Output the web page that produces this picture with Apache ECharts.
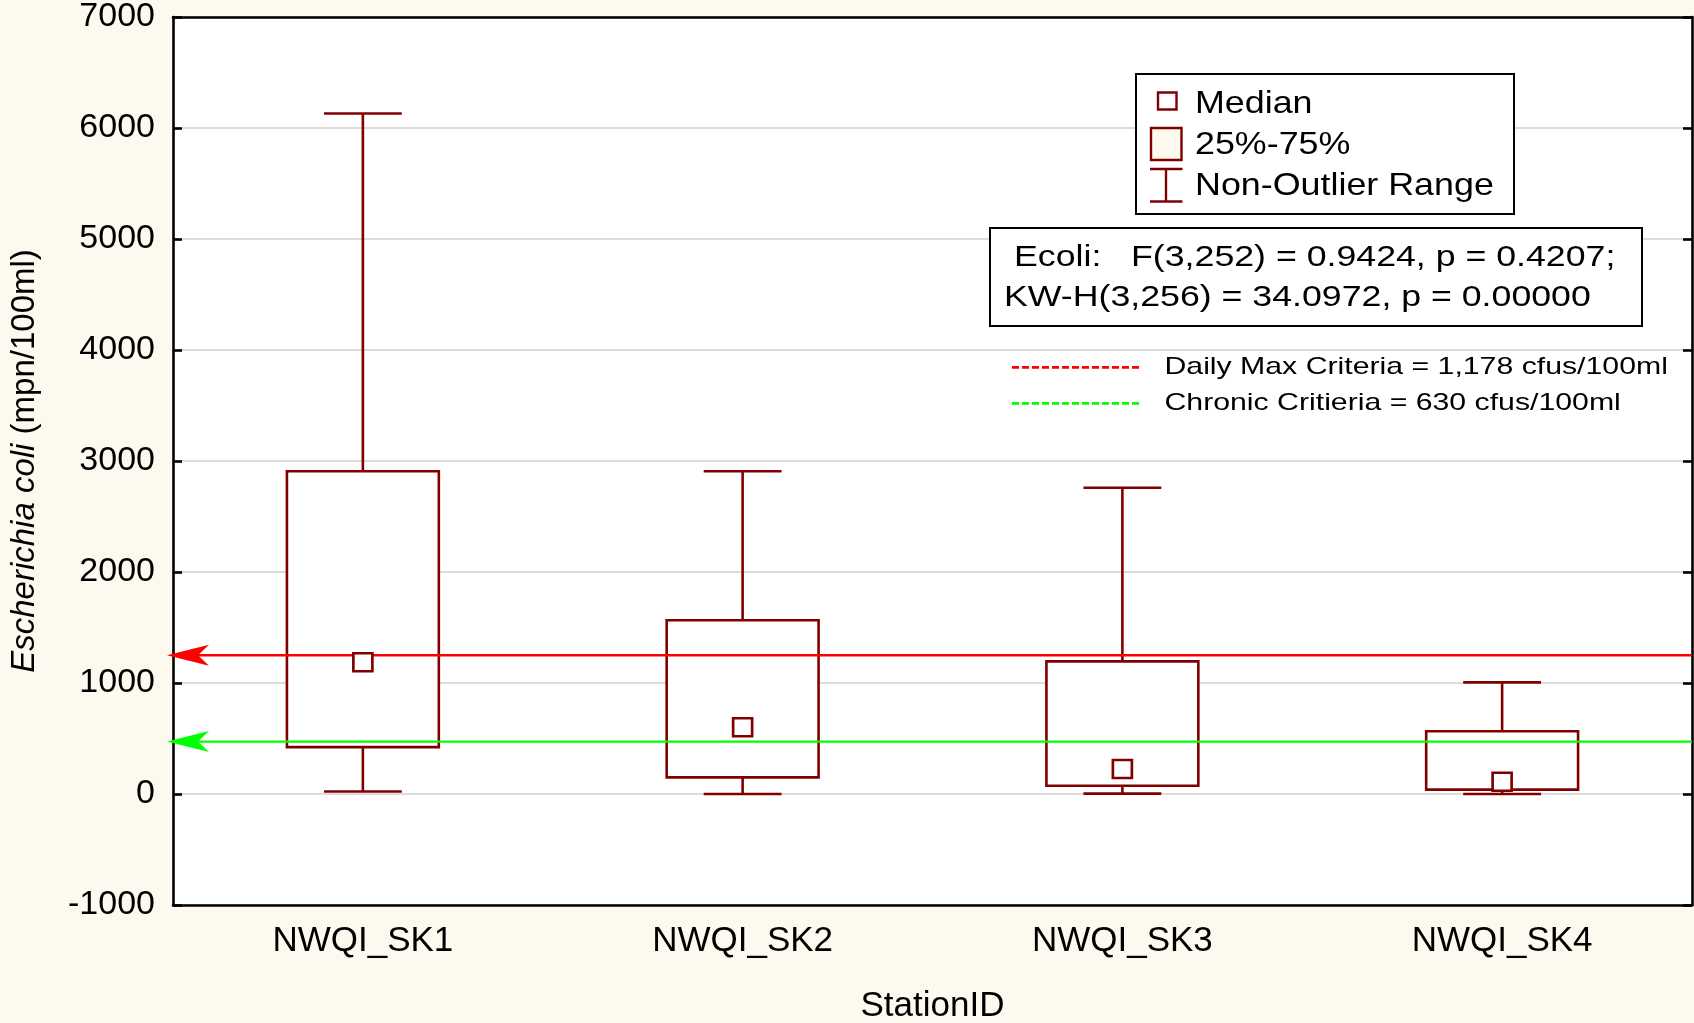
<!DOCTYPE html>
<html>
<head>
<meta charset="utf-8">
<script src="https://cdn.jsdelivr.net/npm/echarts@6/dist/echarts.min.js"></script>
<style>
html,body{margin:0;padding:0;background:#FEF9EE;overflow:hidden;}
#main{width:1694px;height:1023px;}
</style>
</head>
<body>
<div id="main"></div>
<script>
// ---- data ----
const categories = ['NWQI_SK1', 'NWQI_SK2', 'NWQI_SK3', 'NWQI_SK4'];
const whiskerLow  = [22, 0, 3, 0];
const q1          = [422, 150, 75, 39];
const median      = [1186, 601, 225, 111];
const q3          = [2908, 1565, 1195, 565];
const whiskerHigh = [6130, 2907, 2759, 1006];
const yMin = -1000, yMax = 7000, yInterval = 1000;
const criteriaValues = [1250, 472];          // red / green lines as drawn
const criteriaColors = ['#ff0000', '#00ff00'];
const legendLabels = ['Median', '25%-75%', 'Non-Outlier Range'];
const statsLines = ['Ecoli:   F(3,252) = 0.9424, p = 0.4207;', 'KW-H(3,256) = 34.0972, p = 0.00000'];
const criteriaLabels = ['Daily Max Criteria = 1,178 cfus/100ml', 'Chronic Critieria = 630 cfus/100ml'];
const xAxisTitle = 'StationID';

// ---- styles ----
const FONT = 'Liberation Sans, Arial, sans-serif';
const BOX = '#800000';
const CREAM = '#FEF9EE';

const chart = echarts.init(document.getElementById('main'), null, {renderer: 'canvas'});

const boxData = categories.map((c, i) => [i, whiskerLow[i], q1[i], median[i], q3[i], whiskerHigh[i]]);
const critData = criteriaValues.map((v, i) => [0, v, i]);

function txt(text, x, y, size, sx) {
  return {
    type: 'text', x: x, y: y, scaleX: sx, scaleY: 1, z: 20,
    style: {text: text, font: size + 'px ' + FONT, fill: '#000',
            align: 'left', verticalAlign: 'middle', textAlign: 'left', textVerticalAlign: 'middle'}
  };
}
function ln(x1, y1, x2, y2, color, w, dash) {
  return {type: 'line', z: 20, shape: {x1: x1, y1: y1, x2: x2, y2: y2},
          style: {stroke: color, lineWidth: w, lineDash: dash || null}};
}

const axisLineStyle = {color: '#000', width: 2.6};

const option = {
  backgroundColor: CREAM,
  animation: false,
  grid: {left: 173, right: 2, top: 17, bottom: 118, show: true, backgroundColor: '#fff', borderWidth: 0,
         containLabel: false, outerBoundsMode: 'none'},
  xAxis: [
    {
      type: 'category', data: categories, position: 'bottom',
      axisLine: {onZero: false, lineStyle: axisLineStyle},
      axisTick: {inside: true, alignWithLabel: true, length: 9, lineStyle: {color: '#000', width: 2.6}},
      axisLabel: {fontSize: 35, color: '#000', margin: 19, fontFamily: FONT},
      splitLine: {show: false},
      name: xAxisTitle, nameLocation: 'middle', nameGap: 84,
      nameTextStyle: {fontSize: 35, color: '#000', fontFamily: FONT}
    },
    {
      type: 'category', data: categories, position: 'top',
      axisLine: {onZero: false, lineStyle: axisLineStyle},
      axisTick: {inside: true, alignWithLabel: true, length: 9, lineStyle: {color: '#000', width: 2.6}},
      axisLabel: {show: false}, splitLine: {show: false}
    }
  ],
  yAxis: [
    {
      type: 'value', min: yMin, max: yMax, interval: yInterval, position: 'left',
      axisLine: {show: true, onZero: false, lineStyle: axisLineStyle},
      axisTick: {show: true, inside: true, length: 9, lineStyle: {color: '#000', width: 2.6}},
      axisLabel: {fontSize: 34, color: '#000', margin: 18, fontFamily: FONT, formatter: v => String(v)},
      splitLine: {show: true, lineStyle: {color: '#dcdcdc', width: 2}},
      name: '{i|Escherichia coli} (mpn/100ml)', nameLocation: 'middle', nameGap: 132,
      nameTextStyle: {fontSize: 33, color: '#000', fontFamily: FONT,
        rich: {i: {fontSize: 33, fontStyle: 'italic', color: '#000', fontFamily: FONT}}}
    },
    {
      type: 'value', min: yMin, max: yMax, interval: yInterval, position: 'right',
      axisLine: {show: true, onZero: false, lineStyle: axisLineStyle},
      axisTick: {show: true, inside: true, length: 9, lineStyle: {color: '#000', width: 2.6}},
      axisLabel: {show: false}, splitLine: {show: false}
    }
  ],
  series: [
    {
      type: 'custom', name: 'box', z: 2, xAxisIndex: 0, yAxisIndex: 0,
      data: boxData,
      encode: {x: 0, y: [1, 2, 4, 5]},
      renderItem: function (params, api) {
        const i = api.value(0);
        const lo = api.coord([i, api.value(1)]);
        const b1 = api.coord([i, api.value(2)]);
        const b3 = api.coord([i, api.value(4)]);
        const hi = api.coord([i, api.value(5)]);
        const band = api.size([1, 0])[0];
        const bw = band * 0.4, cw = band * 0.205;
        const x = lo[0];
        const st = {stroke: BOX, lineWidth: 2.6, fill: null};
        return {type: 'group', children: [
          {type: 'line', shape: {x1: x, y1: hi[1], x2: x, y2: b3[1]}, style: st},
          {type: 'line', shape: {x1: x - cw / 2, y1: hi[1], x2: x + cw / 2, y2: hi[1]}, style: st},
          {type: 'line', shape: {x1: x, y1: b1[1], x2: x, y2: lo[1]}, style: st},
          {type: 'line', shape: {x1: x - cw / 2, y1: lo[1], x2: x + cw / 2, y2: lo[1]}, style: st},
          {type: 'rect', shape: {x: x - bw / 2, y: b3[1], width: bw, height: b1[1] - b3[1]},
           style: {stroke: BOX, lineWidth: 2.6, fill: '#fff'}}
        ]};
      }
    },
    {
      type: 'custom', name: 'criteria', z: 3, silent: true, clip: false,
      data: critData,
      encode: {x: 0, y: 1},
      renderItem: function (params, api) {
        const y = api.coord([0, api.value(1)])[1];
        const cs = params.coordSys;
        const color = criteriaColors[api.value(2)];
        const x0 = cs.x;
        return {type: 'group', children: [
          {type: 'line', shape: {x1: x0, y1: y, x2: x0 + cs.width, y2: y}, style: {stroke: color, lineWidth: 2.4}},
          {type: 'polygon', shape: {points: [[x0 - 6, y], [x0 + 36, y - 10.5], [x0 + 25, y], [x0 + 36, y + 10.5]]},
           style: {fill: color, stroke: null}}
        ]};
      }
    },
    {
      type: 'scatter', name: 'Median', z: 4,
      data: median,
      symbol: 'rect', symbolSize: [19, 18],
      itemStyle: {color: '#fff', borderColor: BOX, borderWidth: 2.6, opacity: 1}
    }
  ],
  graphic: [
    // legend box
    {type: 'rect', z: 15, shape: {x: 1136, y: 74, width: 378, height: 140}, style: {fill: '#fff', stroke: '#000', lineWidth: 2}},
    {type: 'rect', z: 20, shape: {x: 1158, y: 92.5, width: 18.5, height: 17}, style: {fill: '#fff', stroke: BOX, lineWidth: 2.4}},
    {type: 'rect', z: 20, shape: {x: 1151, y: 128, width: 30.5, height: 32}, style: {fill: CREAM, stroke: BOX, lineWidth: 2.4}},
    ln(1150, 169, 1182.5, 169, BOX, 2.4),
    ln(1166, 169, 1166, 201.5, BOX, 2.4),
    ln(1150, 201.5, 1182.5, 201.5, BOX, 2.4),
    txt(legendLabels[0], 1195, 104, 32, 1.12),
    txt(legendLabels[1], 1195, 145.5, 32, 1.12),
    txt(legendLabels[2], 1195, 186, 32, 1.12),
    // stats box
    {type: 'rect', z: 15, shape: {x: 990, y: 228, width: 652, height: 98}, style: {fill: '#fff', stroke: '#000', lineWidth: 2}},
    txt(statsLines[0], 1014, 257.5, 30, 1.19),
    txt(statsLines[1], 1004, 297.5, 30, 1.19),
    // criteria legend
    ln(1012, 367.3, 1142, 367.3, criteriaColors[0], 2.7, [7, 3]),
    ln(1012, 403.3, 1142, 403.3, criteriaColors[1], 2.7, [7, 3]),
    txt(criteriaLabels[0], 1164.5, 367, 24, 1.26),
    txt(criteriaLabels[1], 1164.5, 403.6, 24, 1.26)
  ]
};
chart.setOption(option);
</script>
</body>
</html>
